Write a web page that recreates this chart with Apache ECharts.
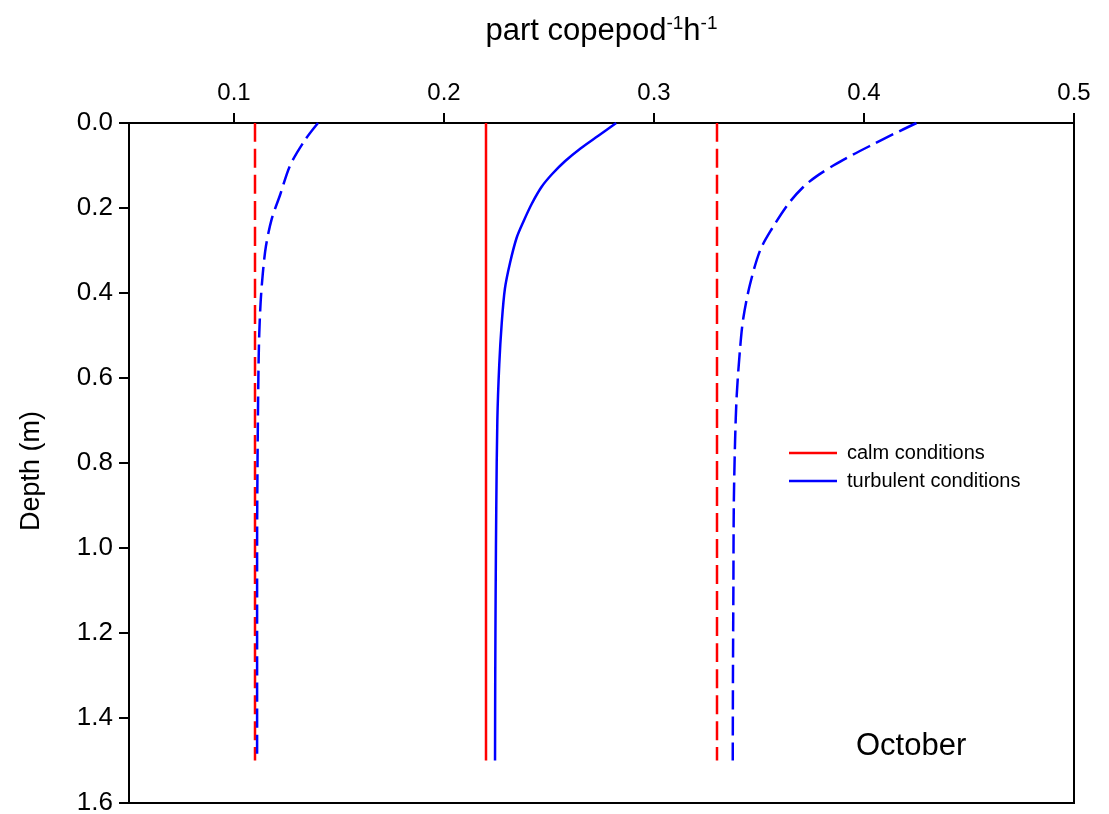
<!DOCTYPE html>
<html>
<head>
<meta charset="utf-8">
<script src="https://cdn.jsdelivr.net/npm/echarts@6/dist/echarts.min.js"></script>
<style>html,body{margin:0;padding:0;background:#fff}#c{width:1109px;height:814px}</style>
</head>
<body>
<div id="c"></div>
<script>
// ---- data ----
const xTicks = [0.1, 0.2, 0.3, 0.4, 0.5];
const calmDepth = [0, 1.5];
const calmLow = [0.11, 0.11];
const calmMid = [0.22, 0.22];
const calmHigh = [0.33, 0.33];

const turbLowDepth = [0, 0.04, 0.1, 0.17, 0.225, 0.29, 0.355, 0.42, 0.5, 0.6, 0.8, 1.0, 1.2, 1.5];
const turbLow = [0.140, 0.1338, 0.1267, 0.1219, 0.118, 0.1152, 0.1137, 0.1127, 0.112, 0.1116, 0.1112, 0.111, 0.111, 0.111];

const turbMidDepth = [0, 0.03, 0.06, 0.09, 0.12, 0.15, 0.19, 0.23, 0.27, 0.33, 0.39, 0.47, 0.57, 0.7, 0.9, 1.1, 1.3, 1.5];
const turbMid = [0.282, 0.2735, 0.265, 0.2576, 0.2515, 0.2465, 0.2418, 0.238, 0.2346, 0.2314, 0.229, 0.2275, 0.2263, 0.2254, 0.2249, 0.2246, 0.2244, 0.2243];

const turbHighDepth = [0, 0.025, 0.05, 0.075, 0.1, 0.125, 0.15, 0.19, 0.25, 0.3, 0.38, 0.46, 0.53, 0.64, 0.75, 0.9, 1.1, 1.3, 1.5];
const turbHigh = [0.425, 0.4145, 0.4044, 0.3945, 0.3854, 0.3775, 0.3712, 0.364, 0.356, 0.3505, 0.3457, 0.3425, 0.341, 0.3394, 0.3386, 0.338, 0.3378, 0.3376, 0.3375];

const legendNames = ['calm conditions', 'turbulent conditions'];
const panelLabel = 'October';

function pairs(xs, ds) { return xs.map((v, i) => [v, ds[i]]); }

const RED = '#ff0000', BLUE = '#0000ff';
const FONT = 'Liberation Sans, Arial, sans-serif';

function line(name, xs, ds, color, dashed) {
  return {
    type: 'line', name: name, data: pairs(xs, ds),
    showSymbol: false, symbol: 'none', smooth: 0.3,
    lineStyle: { color: color, width: 2.5, type: dashed ? [19, 7] : 'solid' },
    itemStyle: { color: color },
    emphasis: { disabled: true }, animation: false
  };
}

const chart = echarts.init(document.getElementById('c'));
chart.setOption({
  backgroundColor: '#ffffff',
  animation: false,
  grid: { left: 129, right: 35, top: 123, bottom: 11, outerBoundsMode: 'none', containLabel: false,
    show: true, borderColor: '#000', borderWidth: 2, backgroundColor: 'transparent' },
  xAxis: {
    type: 'value', position: 'top', min: 0.05, max: 0.5,
    name: 'part copepod{sup|-1}h{sup|-1}', nameLocation: 'middle', nameGap: 74,
    nameTextStyle: { fontFamily: FONT, fontSize: 31, color: '#000',
      rich: { sup: { fontFamily: FONT, fontSize: 19, color: '#000', verticalAlign: 'top', padding: [0, 0, 16, 0] } } },
    axisLine: { show: true, lineStyle: { color: '#000', width: 2 } },
    axisTick: { show: true, inside: false, length: 10, lineStyle: { color: '#000', width: 2 }, customValues: xTicks },
    axisLabel: { show: true, margin: 18, fontFamily: FONT, fontSize: 24, color: '#000', customValues: xTicks,
      formatter: v => v.toFixed(1) },
    splitLine: { show: false }
  },
  yAxis: {
    type: 'value', inverse: true, min: 0, max: 1.6, interval: 0.2,
    name: 'Depth (m)', nameLocation: 'middle', nameGap: 84,
    nameTextStyle: { fontFamily: FONT, fontSize: 27, color: '#000', padding: [0, 16, 0, 0] },
    axisLine: { show: true, lineStyle: { color: '#000', width: 2 } },
    axisTick: { show: true, length: 10, lineStyle: { color: '#000', width: 2 } },
    axisLabel: { margin: 16, fontFamily: FONT, fontSize: 26, color: '#000', formatter: v => v.toFixed(1) },
    splitLine: { show: false }
  },
  legend: {
    data: legendNames, orient: 'vertical', left: 784, top: 438,
    icon: 'rect', itemWidth: 48, itemHeight: 2.5, itemGap: 8,
    textStyle: { fontFamily: FONT, fontSize: 20, color: '#000', padding: [0, 0, 0, 5] },
    selectedMode: false
  },
  graphic: [{
    type: 'text', left: 856, top: 731,
    style: { text: panelLabel, font: '31px ' + FONT, fill: '#000' }
  }],
  series: [
    line(legendNames[0], calmMid, calmDepth, RED, false),
    line(legendNames[0], calmLow, calmDepth, RED, true),
    line(legendNames[0], calmHigh, calmDepth, RED, true),
    line(legendNames[1], turbMid, turbMidDepth, BLUE, false),
    line(legendNames[1], turbLow, turbLowDepth, BLUE, true),
    line(legendNames[1], turbHigh, turbHighDepth, BLUE, true)
  ]
});
</script>
</body>
</html>
